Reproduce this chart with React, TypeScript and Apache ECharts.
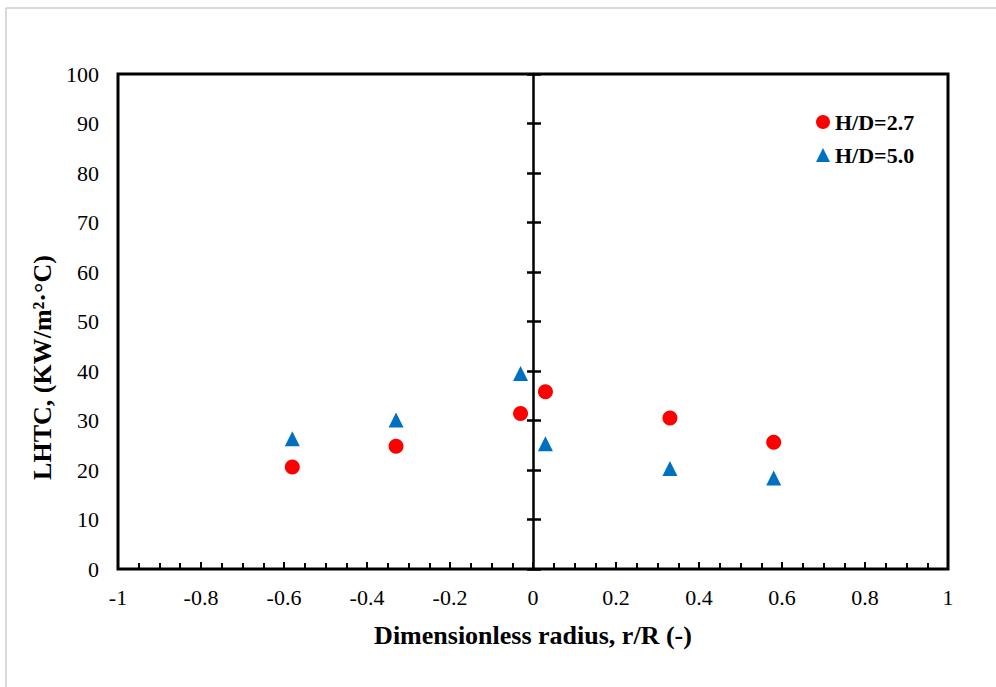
import React, { useEffect, useRef } from "react";
import * as echarts from "echarts";

const hd27X = [-0.58, -0.33, -0.03, 0.03, 0.33, 0.58];
const hd27Y = [20.6, 24.8, 31.4, 35.8, 30.5, 25.6];
const hd50X = [-0.58, -0.33, -0.03, 0.03, 0.33, 0.58];
const hd50Y = [26.3, 30.1, 39.5, 25.3, 20.3, 18.4];
const seriesNames = ["H/D=2.7", "H/D=5.0"];
const xRange = [-1, 1];
const yRange = [0, 100];

const FONT = '"Liberation Serif", "Times New Roman", serif';

export default function App() {
  const ref = useRef<HTMLDivElement>(null);
  useEffect(() => {
    if (!ref.current) return;
    const chart = echarts.init(ref.current, undefined, { renderer: "svg" });
    const hiddenY = {
      type: "value",
      min: yRange[0],
      max: yRange[1],
      interval: 10,
      axisLabel: { show: false },
      splitLine: { show: false },
    };
    chart.setOption({
      animation: false,
      backgroundColor: "#ffffff",
      textStyle: { fontFamily: FONT },
      graphic: [
        { type: "line", shape: { x1: 6, y1: 8, x2: 996, y2: 8 }, style: { stroke: "#d9d9d9", lineWidth: 2 } },
        { type: "line", shape: { x1: 6, y1: 8, x2: 6, y2: 687 }, style: { stroke: "#d9d9d9", lineWidth: 2 } },
      ],
      grid: {
        left: 118,
        top: 74,
        width: 830,
        height: 495,
        show: true,
        borderColor: "#000",
        borderWidth: 3,
        backgroundColor: "transparent",
      },
      legend: {
        orient: "vertical",
        left: 816,
        top: 111,
        padding: 0,
        itemGap: 11,
        itemWidth: 14,
        itemHeight: 14,
        textStyle: { fontFamily: FONT, fontSize: 22, fontWeight: "bold", color: "#000" },
        data: [
          { name: seriesNames[0], icon: "circle" },
          { name: seriesNames[1], icon: "triangle" },
        ],
      },
      xAxis: {
        type: "value",
        min: xRange[0],
        max: xRange[1],
        interval: 0.2,
        name: "Dimensionless radius, r/R (-)",
        nameLocation: "middle",
        nameGap: 53,
        nameTextStyle: { fontFamily: FONT, fontSize: 26, fontWeight: "bold", color: "#000" },
        axisLine: { show: false, onZero: false },
        axisTick: { show: true, inside: true, length: 7, lineStyle: { color: "#000", width: 2 } },
        minorTick: { show: true, splitNumber: 4, length: 6, lineStyle: { color: "#000", width: 2 } },
        axisLabel: { fontFamily: FONT, fontSize: 22, color: "#000", margin: 17 },
        splitLine: { show: false },
      },
      yAxis: [
        {
          type: "value",
          min: yRange[0],
          max: yRange[1],
          interval: 10,
          name: "LHTC, (KW/m²·°C)",
          nameLocation: "middle",
          nameGap: 58,
          nameTextStyle: {
            fontFamily: FONT,
            fontSize: 26,
            fontWeight: "bold",
            color: "#000",
            padding: [0, 92, 0, 0],
          },
          axisLine: { show: false, onZero: false },
          axisTick: { show: false },
          axisLabel: { fontFamily: FONT, fontSize: 22, color: "#000", margin: 19 },
          splitLine: { show: false },
        },
        {
          ...hiddenY,
          position: "right",
          axisLine: { show: true, onZero: true, onZeroAxisIndex: 0, lineStyle: { color: "#000", width: 2.5 } },
          axisTick: { show: true, inside: false, length: 8, lineStyle: { color: "#000", width: 2.5 } },
        },
        {
          ...hiddenY,
          position: "left",
          axisLine: { show: false, onZero: true, onZeroAxisIndex: 0 },
          axisTick: { show: true, inside: false, length: 6, lineStyle: { color: "#000", width: 2.5 } },
        },
      ],
      series: [
        {
          name: seriesNames[0],
          type: "scatter",
          symbol: "circle",
          symbolSize: 15,
          itemStyle: { color: "#ff0000", opacity: 1 },
          data: hd27X.map((x, i) => [x, hd27Y[i]]),
        },
        {
          name: seriesNames[1],
          type: "scatter",
          symbol: "triangle",
          symbolSize: 15,
          itemStyle: { color: "#0070c0", opacity: 1 },
          data: hd50X.map((x, i) => [x, hd50Y[i]]),
        },
      ],
    });
    return () => chart.dispose();
  }, []);
  return (
    <div style={{ position: "absolute", left: 0, top: 0, width: 996, height: 687, background: "#fff" }}>
      <div ref={ref} style={{ width: 996, height: 687 }} />
    </div>
  );
}
